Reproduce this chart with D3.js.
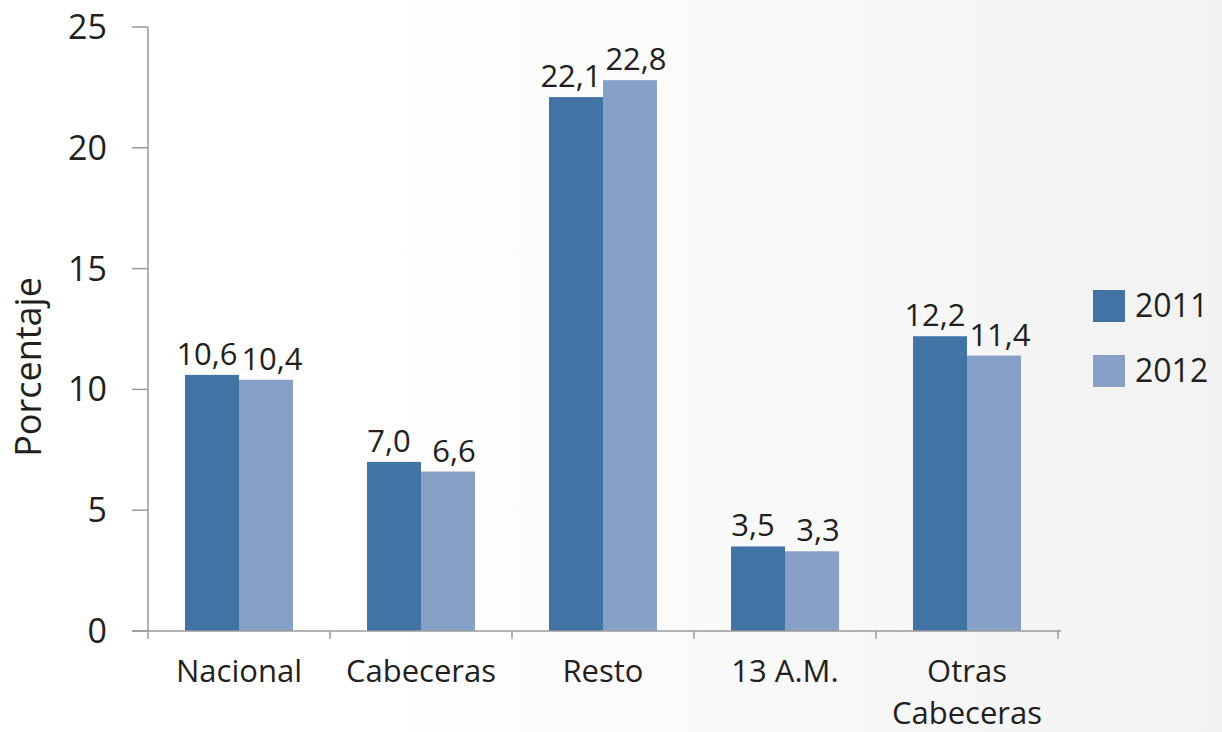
<!DOCTYPE html>
<html>
<head>
<meta charset="utf-8">
<script src="https://cdn.jsdelivr.net/npm/d3@7"></script>
<style>
  body { margin: 0; }
  svg text { font-family: "Open Sans", "Noto Sans", sans-serif; fill: #231f20; }
</style>
</head>
<body>
<div id="chart"></div>
<script>
// categories and values
var categories = ["Nacional", "Cabeceras", "Resto", "13 A.M.", "Otras Cabeceras"];
var series = ["2011", "2012"];
var values2011 = [10.6, 7.0, 22.1, 3.5, 12.2];
var values2012 = [10.4, 6.6, 22.8, 3.3, 11.4];
var yTicks = [0, 5, 10, 15, 20, 25];

(function() {
	var width = 1222, height = 732;
	var colors = { "2011": "#4273a5", "2012": "#86a0c7" };

	var data = categories.map(function(c, i) {
		return { cat: c, vals: [
			{ key: "2011", value: values2011[i] },
			{ key: "2012", value: values2012[i] }
		]};
	});

	var svg = d3.select("#chart")
		.append("svg")
		.attr("width", width)
		.attr("height", height);

	// soft grey fade on the right side like the original
	var grad = svg.append("defs").append("linearGradient")
		.attr("id", "bg")
		.attr("x1", "0%").attr("x2", "100%");
	grad.append("stop").attr("offset", "30%").attr("stop-color", "#ffffff");
	grad.append("stop").attr("offset", "100%").attr("stop-color", "#f2f2f2");
	svg.append("rect")
		.attr("width", width).attr("height", height)
		.attr("fill", "url(#bg)");

	var x0 = d3.scaleBand()
		.domain(categories)
		.range([148, 1058]);

	var x1 = d3.scaleBand()
		.domain(series)
		.range([0, x0.bandwidth()])
		.paddingInner(0)
		.paddingOuter(0.685);

	var y = d3.scaleLinear()
		.domain([0, 25])
		.range([631, 27]);

	var axisColor = "#9a9a9a";

	// y axis
	svg.append("line")
		.attr("x1", 148).attr("x2", 148)
		.attr("y1", y(25)).attr("y2", y(0))
		.attr("stroke", axisColor).attr("stroke-width", 1.5);

	svg.selectAll(".y-tick")
		.data(yTicks)
		.enter()
		.append("line")
		.attr("class", "y-tick")
		.attr("x1", 132).attr("x2", 148)
		.attr("y1", function(d) { return y(d); })
		.attr("y2", function(d) { return y(d); })
		.attr("stroke", axisColor).attr("stroke-width", 1.5);

	svg.selectAll(".y-label")
		.data(yTicks)
		.enter()
		.append("text")
		.attr("class", "y-label")
		.attr("x", 107)
		.attr("y", function(d) { return y(d) + 12; })
		.attr("text-anchor", "end")
		.style("font-size", "34px")
		.text(function(d) { return d; });

	svg.append("text")
		.attr("transform", "translate(41," + 367 + ") rotate(-90)")
		.attr("text-anchor", "middle")
		.style("font-size", "36px")
		.text("Porcentaje");

	// bars
	var groups = svg.selectAll(".group")
		.data(data)
		.enter()
		.append("g")
		.attr("class", "group")
		.attr("transform", function(d) { return "translate(" + x0(d.cat) + ",0)"; });

	groups.selectAll("rect")
		.data(function(d) { return d.vals; })
		.enter()
		.append("rect")
		.attr("x", function(d) { return x1(d.key); })
		.attr("y", function(d) { return y(d.value); })
		.attr("width", x1.bandwidth())
		.attr("height", function(d) { return y(0) - y(d.value); })
		.attr("fill", function(d) { return colors[d.key]; });

	groups.selectAll(".val")
		.data(function(d) { return d.vals; })
		.enter()
		.append("text")
		.attr("class", "val")
		.attr("x", function(d) {
			var shift = d.key === "2011" ? -5 : 6;
			return x1(d.key) + x1.bandwidth() / 2 + shift;
		})
		.attr("y", function(d) { return y(d.value) - 10; })
		.attr("text-anchor", "middle")
		.style("font-size", "31px")
		.text(function(d) { return d.value.toFixed(1).replace(".", ","); });

	// x axis
	svg.append("line")
		.attr("x1", 132).attr("x2", 1061)
		.attr("y1", y(0)).attr("y2", y(0))
		.attr("stroke", axisColor).attr("stroke-width", 1.5);

	var bounds = categories.map(function(c) { return x0(c); }).concat([x0.range()[1]]);
	svg.selectAll(".x-tick")
		.data(bounds)
		.enter()
		.append("line")
		.attr("class", "x-tick")
		.attr("x1", function(d) { return d; })
		.attr("x2", function(d) { return d; })
		.attr("y1", y(0)).attr("y2", y(0) + 8)
		.attr("stroke", axisColor).attr("stroke-width", 1.5);

	// category labels, long one wrapped on two lines
	var lines = [];
	categories.forEach(function(c) {
		var words = c === "Otras Cabeceras" ? ["Otras", "Cabeceras"] : [c];
		words.forEach(function(w, i) { lines.push({ cat: c, text: w, line: i }); });
	});

	svg.selectAll(".cat-label")
		.data(lines)
		.enter()
		.append("text")
		.attr("class", "cat-label")
		.attr("text-anchor", "middle")
		.attr("x", function(d) { return x0(d.cat) + x0.bandwidth() / 2; })
		.attr("y", function(d) { return 682 + d.line * 42; })
		.style("font-size", "31px")
		.text(function(d) { return d.text; });

	// legend
	var legend = svg.selectAll(".legend")
		.data(series)
		.enter()
		.append("g")
		.attr("class", "legend")
		.attr("transform", function(d, i) { return "translate(1093," + (290 + i * 65) + ")"; });

	legend.append("rect")
		.attr("width", 32).attr("height", 32)
		.attr("fill", function(d) { return colors[d]; });

	legend.append("text")
		.attr("x", 42).attr("y", 27)
		.style("font-size", "32px")
		.text(function(d) { return d; });
})();
</script>
</body>
</html>
